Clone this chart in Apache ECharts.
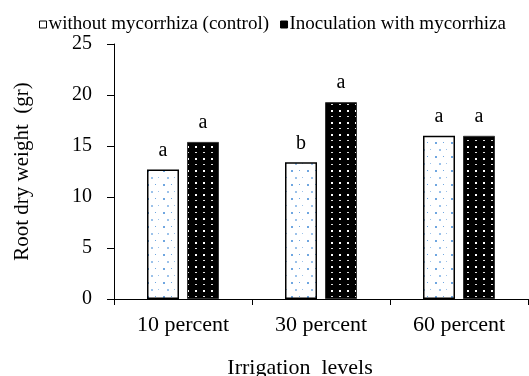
<!DOCTYPE html>
<html><head><meta charset="utf-8">
<script src="https://cdn.jsdelivr.net/npm/echarts@6/dist/echarts.min.js"></script>
<style>html,body{margin:0;padding:0;background:#fff}#c{width:529px;height:376px}</style>
</head><body><div id="c"></div>
<script>
var categories = ['10 percent', '30 percent', '60 percent'];
var controlValues = [12.7, 13.4, 16.0];
var mycoValues = [15.4, 19.3, 16.0];
var controlLetters = ['a', 'b', 'a'];
var mycoLetters = ['a', 'a', 'a'];
var seriesNames = ['without mycorrhiza (control)', 'Inoculation with mycorrhiza'];
var yTicks = [0, 5, 10, 15, 20, 25];

function makeWhitePattern() {
  var c = document.createElement('canvas');
  c.width = 16; c.height = 14;
  var g = c.getContext('2d');
  g.fillStyle = '#ffffff'; g.fillRect(0, 0, 16, 14);
  g.fillStyle = '#6fa6e0';
  g.fillRect(3, 2, 2, 2);
  g.fillRect(11, 2, 1, 1);
  g.fillStyle = '#9cc2ea';
  g.fillRect(7, 9, 2, 2);
  g.fillRect(14, 9, 1, 1);
  return c;
}
function makeBlackPattern() {
  var c = document.createElement('canvas');
  c.width = 8; c.height = 12;
  var g = c.getContext('2d');
  g.fillStyle = '#000000'; g.fillRect(0, 0, 8, 12);
  g.fillStyle = '#ffffff';
  g.fillRect(3, 2, 2, 2);
  g.fillStyle = '#dddddd';
  g.fillRect(3, 8, 2, 1);
  return c;
}

var chart = echarts.init(document.getElementById('c'), null, {renderer: 'canvas'});
var serif = 'Liberation Serif, Times New Roman, serif';
chart.setOption({
  animation: false,
  textStyle: {fontFamily: serif, color: '#000'},
  legend: {
    top: 10, left: 34,
    itemWidth: 7, itemHeight: 7, itemGap: 11,
    textStyle: {fontFamily: serif, fontSize: 19, color: '#000', padding: [0, 0, 0, -3]},
    data: [
      {name: seriesNames[0], icon: 'rect', itemStyle: {color: '#fff', borderColor: '#000', borderWidth: 1}},
      {name: seriesNames[1], icon: 'rect', itemStyle: {color: '#000', borderColor: '#000', borderWidth: 1}}
    ]
  },
  grid: {left: 114, right: 1, top: 44, bottom: 77, outerBoundsMode: 'none', containLabel: false},
  xAxis: {
    type: 'category',
    data: categories,
    name: 'Irrigation  levels',
    nameLocation: 'middle',
    nameGap: 58,
    nameTextStyle: {fontFamily: serif, fontSize: 22, color: '#000', padding: [0, 42, 0, 0]},
    axisLine: {lineStyle: {color: '#000', width: 1}},
    axisTick: {show: true, length: 6, lineStyle: {color: '#000'}},
    axisLabel: {fontFamily: serif, fontSize: 22, color: '#000', margin: 15}
  },
  yAxis: {
    type: 'value',
    min: yTicks[0], max: yTicks[yTicks.length - 1], interval: 5,
    name: 'Root dry weight  (gr)',
    nameLocation: 'middle',
    nameGap: 81,
    nameRotate: 90,
    nameTextStyle: {fontFamily: serif, fontSize: 21, color: '#000'},
    axisLine: {show: true, lineStyle: {color: '#000', width: 1}},
    axisTick: {show: true, length: 7, lineStyle: {color: '#000'}},
    splitLine: {show: false},
    axisLabel: {fontFamily: serif, fontSize: 20, color: '#000', margin: 22}
  },
  series: [
    {
      name: seriesNames[0], type: 'bar',
      data: controlValues,
      barWidth: 32, barGap: '25%',
      itemStyle: {color: {image: makeWhitePattern(), repeat: 'repeat'}, borderColor: '#000', borderWidth: 1.5},
      label: {show: true, position: 'top', distance: 9, fontFamily: serif, fontSize: 20, color: '#000',
        formatter: function (p) { return controlLetters[p.dataIndex]; }}
    },
    {
      name: seriesNames[1], type: 'bar',
      data: mycoValues,
      barWidth: 32,
      itemStyle: {color: {image: makeBlackPattern(), repeat: 'repeat'}, borderColor: '#333', borderWidth: 1},
      label: {show: true, position: 'top', distance: 9, fontFamily: serif, fontSize: 20, color: '#000',
        formatter: function (p) { return mycoLetters[p.dataIndex]; }}
    }
  ]
});
</script></body></html>
